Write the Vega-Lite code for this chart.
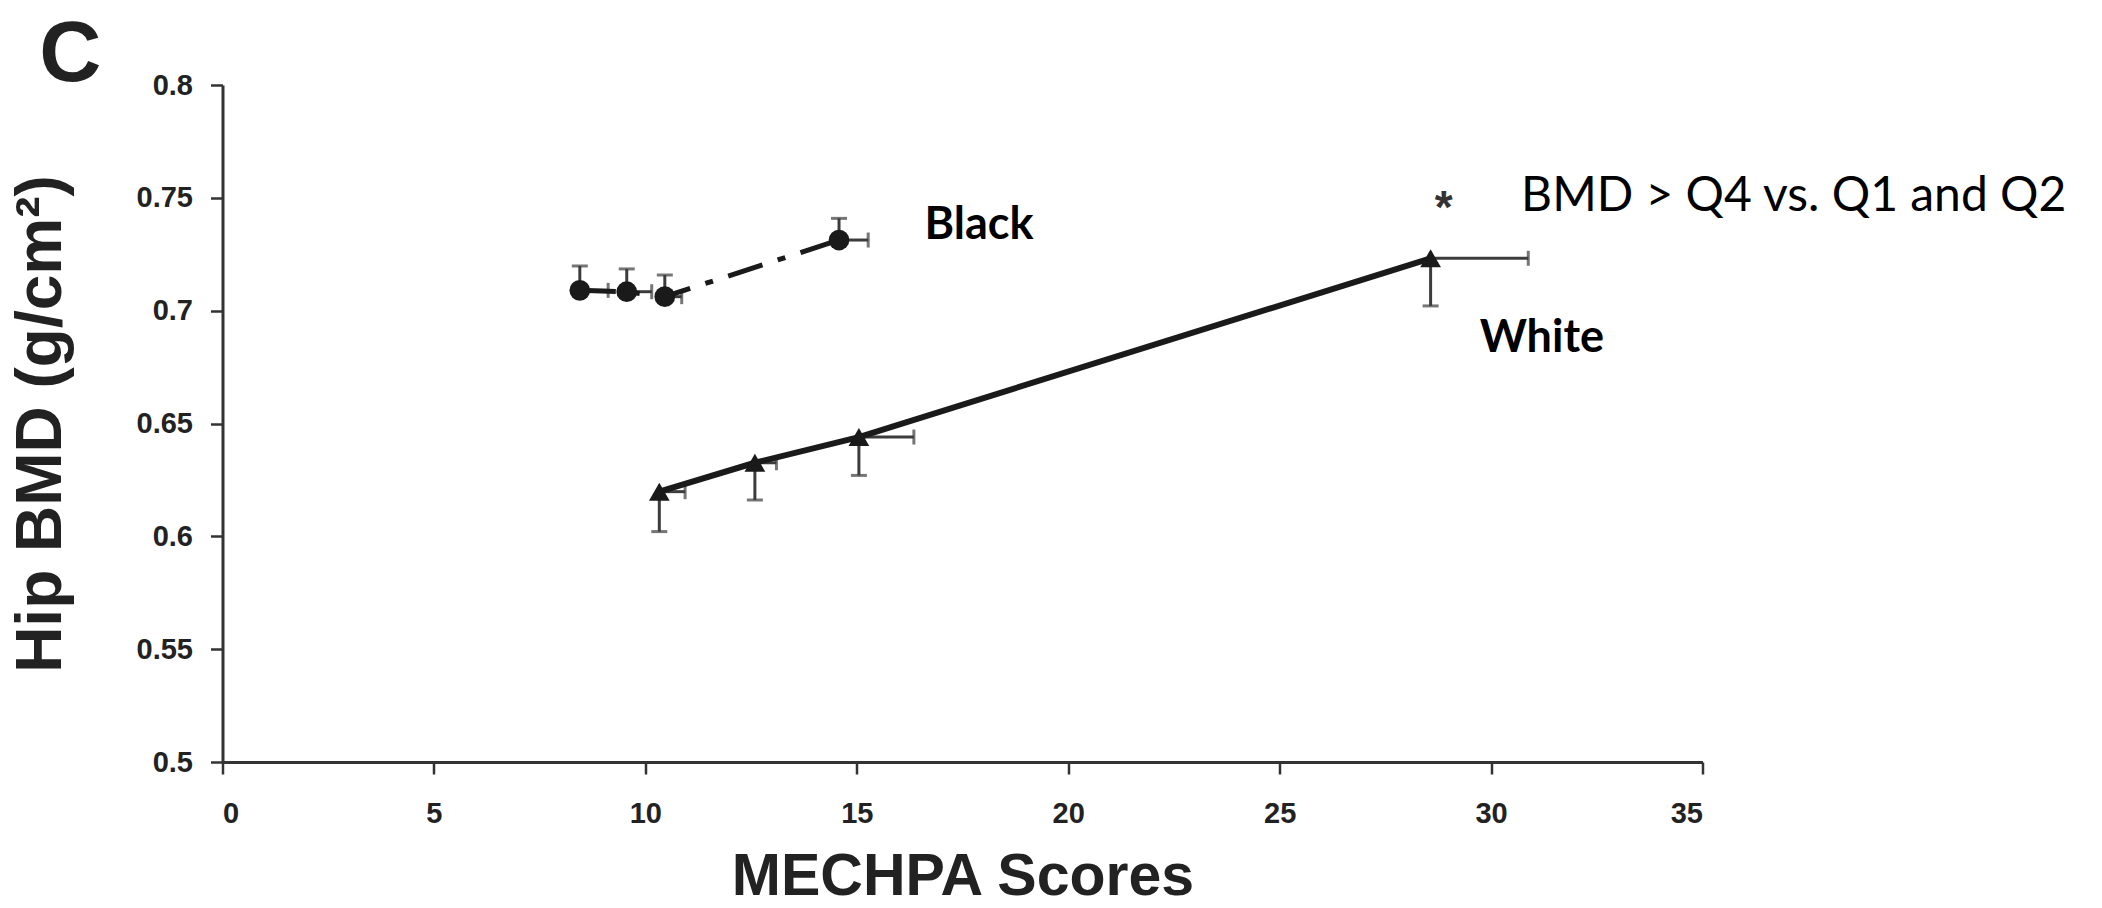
{
  "$schema": "https://vega.github.io/schema/vega-lite/v6.json",
  "width": 1480,
  "height": 677,
  "autosize": {"type": "none"},
  "padding": {"left": 222.5, "top": 85, "right": 399.5, "bottom": 146},
  "background": "white",
  "config": {
    "view": {"stroke": null},
    "axis": {
      "grid": false,
      "domainColor": "#333333",
      "domainWidth": 3,
      "tickColor": "#333333",
      "tickWidth": 2.5,
      "tickSize": 12,
      "labelFont": "Liberation Sans",
      "labelFontWeight": "bold",
      "labelColor": "#222222",
      "titleFont": "Liberation Sans",
      "titleFontWeight": "bold",
      "titleColor": "#222222"
    }
  },
  "datasets": {
    "pts": [
      {"group": "Black", "x": 8.45, "y": 0.709, "yend": 0.7198, "xend": 9.12},
      {"group": "Black", "x": 9.56, "y": 0.7084, "yend": 0.7185, "xend": 10.15},
      {"group": "Black", "x": 10.46, "y": 0.7062, "yend": 0.7158, "xend": 10.86},
      {"group": "Black", "x": 14.58, "y": 0.7313, "yend": 0.7409, "xend": 15.27},
      {"group": "White", "x": 10.33, "y": 0.6198, "yend": 0.6021, "xend": 10.94},
      {"group": "White", "x": 12.59, "y": 0.6326, "yend": 0.6161, "xend": 13.1},
      {"group": "White", "x": 15.05, "y": 0.644, "yend": 0.627, "xend": 16.35},
      {"group": "White", "x": 28.57, "y": 0.7232, "yend": 0.7021, "xend": 30.88}
    ]
  },
  "data": {"name": "pts"},
  "layer": [
    {
      "mark": {"type": "rule", "color": "#3c3c3c", "strokeWidth": 3},
      "encoding": {
        "x": {"field": "x", "type": "quantitative", "scale": {"domain": [0, 35], "nice": false, "zero": false},
          "axis": {"values": [0, 5, 10, 15, 20, 25, 30, 35], "labelFontSize": 29, "labelPadding": 25,
            "title": "MECHPA Scores", "titleFontSize": 59, "titleBaseline": "alphabetic", "titleY": 132, "titleX": 740, "titleAlign": "center"}},
        "y": {"field": "y", "type": "quantitative", "scale": {"domain": [0.5, 0.8], "nice": false, "zero": false},
          "axis": {"values": [0.5, 0.55, 0.6, 0.65, 0.7, 0.75, 0.8], "format": ".2~f", "labelFontSize": 29, "labelPadding": 18,
            "title": "Hip BMD (g/cm²)", "titleFontSize": 64, "titleBaseline": "alphabetic", "titleX": -162, "titleY": 338.5, "titleAlign": "center", "titleAngle": -90}},
        "y2": {"field": "yend"}
      }
    },
    {
      "mark": {"type": "rule", "color": "#3c3c3c", "strokeWidth": 3},
      "encoding": {
        "x": {"field": "x", "type": "quantitative"},
        "x2": {"field": "xend"},
        "y": {"field": "y", "type": "quantitative"}
      }
    },
    {
      "mark": {"type": "tick", "orient": "horizontal", "color": "#3c3c3c", "size": 16, "thickness": 3},
      "encoding": {
        "x": {"field": "x", "type": "quantitative"},
        "y": {"field": "yend", "type": "quantitative"}
      }
    },
    {
      "mark": {"type": "tick", "orient": "vertical", "color": "#3c3c3c", "size": 15, "thickness": 3},
      "encoding": {
        "x": {"field": "xend", "type": "quantitative"},
        "y": {"field": "y", "type": "quantitative"}
      }
    },
    {
      "transform": [{"filter": "datum.group === 'Black'"}],
      "mark": {"type": "line", "color": "#1a1a1a", "strokeWidth": 5, "strokeDash": [36, 16, 8, 16]},
      "encoding": {
        "x": {"field": "x", "type": "quantitative"},
        "y": {"field": "y", "type": "quantitative"}
      }
    },
    {
      "transform": [{"filter": "datum.group === 'White'"}],
      "mark": {"type": "line", "color": "#1a1a1a", "strokeWidth": 6},
      "encoding": {
        "x": {"field": "x", "type": "quantitative"},
        "y": {"field": "y", "type": "quantitative"}
      }
    },
    {
      "mark": {"type": "point", "filled": true, "color": "#1a1a1a", "opacity": 1, "size": 430},
      "encoding": {
        "x": {"field": "x", "type": "quantitative"},
        "y": {"field": "y", "type": "quantitative"},
        "shape": {"field": "group", "type": "nominal", "scale": {"domain": ["Black", "White"], "range": ["circle", "triangle-up"]}, "legend": null}
      }
    },
    {
      "data": {"values": [{"label": "C", "x": -3.6, "y": 0.8135}]},
      "mark": {"type": "text", "font": "Liberation Sans", "fontWeight": "bold", "fontSize": 86, "color": "#222222", "align": "center", "baseline": "middle", "clip": false},
      "encoding": {
        "x": {"field": "x", "type": "quantitative"},
        "y": {"field": "y", "type": "quantitative"},
        "text": {"field": "label"}
      }
    },
    {
      "data": {"values": [{"label": "Black", "x": 16.6, "y": 0.738}, {"label": "White", "x": 29.73, "y": 0.688}]},
      "mark": {"type": "text", "font": "Lato", "fontWeight": "bold", "fontSize": 45, "color": "#000000", "align": "left", "baseline": "middle"},
      "encoding": {
        "x": {"field": "x", "type": "quantitative"},
        "y": {"field": "y", "type": "quantitative"},
        "text": {"field": "label"}
      }
    },
    {
      "data": {"values": [{"label": "BMD > Q4 vs. Q1 and Q2", "x": 30.71, "y": 0.7502}]},
      "mark": {"type": "text", "font": "Lato", "fontWeight": "normal", "fontSize": 48, "color": "#000000", "align": "left", "baseline": "middle"},
      "encoding": {
        "x": {"field": "x", "type": "quantitative"},
        "y": {"field": "y", "type": "quantitative"},
        "text": {"field": "label"}
      }
    },
    {
      "data": {"values": [{"label": "*", "x": 28.88, "y": 0.7388}]},
      "mark": {"type": "text", "font": "Liberation Sans", "fontWeight": "bold", "fontSize": 46, "color": "#333333", "align": "center", "baseline": "alphabetic"},
      "encoding": {
        "x": {"field": "x", "type": "quantitative"},
        "y": {"field": "y", "type": "quantitative"},
        "text": {"field": "label"}
      }
    }
  ]
}
